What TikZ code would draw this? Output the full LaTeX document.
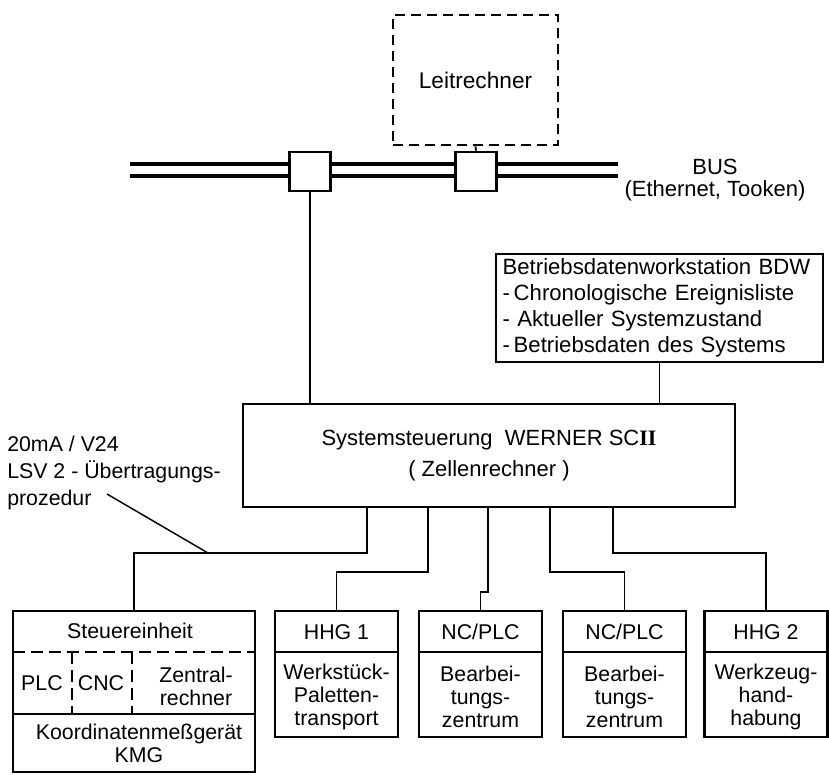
\documentclass[tikz,border=0pt]{standalone}
\usepackage{fontspec}
\setmainfont{Liberation Sans}
\newfontfamily\numeralfont{Liberation Serif}
\usepackage{tikz}

\begin{document}
\begin{tikzpicture}[x=0.75pt,y=0.75pt,yscale=-1,xscale=1,
	every node/.style={font=\fontsize{16}{20}\selectfont},
	unitbox/.style={draw,line width=2.1pt,inner sep=0pt},
	divline/.style={line width=2.1pt},
	inner dash/.style={line width=1.5pt,dash pattern=on 9pt off 4.5pt},
	link/.style={line width=1.4pt},
	buspair/.style={double,line width=2.4pt,double distance=6.6pt}]
	\useasboundingbox (0,0) rectangle (829,775);

	%Bus line
	\coordinate (busL) at (130,170);
	\coordinate (busR) at (618,170);
	\draw [buspair] (busL) -- (busR) ;
	%Shape: Square [bus coupler 1]
	\node [unitbox,fill=white,minimum width=30.75pt,minimum height=29.25pt] (sq1) at (310,171.5) {};
	%Shape: Square [bus coupler 2]
	\node [unitbox,fill=white,minimum width=30.75pt,minimum height=29.25pt] (sq2) at (476,171.5) {};
	% Text Node
	\node [align=center,font=\fontsize{16.5}{17}\selectfont] (buslbl) at (715,180) {BUS\\(Ethernet, Tooken)};

	%Shape: Rectangle [Leitrechner]
	\node [unitbox,dash pattern=on 7.5pt off 4.5pt,minimum width=123.75pt,minimum height=97.5pt,font=\fontsize{17}{20}\selectfont] (leit) at (475.5,80) {Leitrechner};
	\draw [link,dash pattern=on 6pt off 3pt] (leit.south) -- (sq2.north) ;

	%Shape: Rectangle [BDW]
	\node [unitbox,text width=235.25pt,inner xsep=5pt,align=left,minimum height=81pt,font=\fontsize{16.6}{19.5}\selectfont] (bdw) at (659.5,308) {Betriebsdatenworkstation~BDW\\-\,Chronologische Ereignisliste\\- Aktueller Systemzustand\\-\,Betriebsdaten des Systems};

	%Shape: Rectangle [Systemsteuerung]
	\node [unitbox,align=center,minimum width=369pt,minimum height=77.25pt,font=\fontsize{16.5}{23.25}\selectfont] (sys) at (489,455.5) {Systemsteuerung\ \ WERNER SC{\numeralfont\bfseries II}\\( Zellenrechner )};
	\draw [link] (sq1.south) -- (sq1.south |- sys.north) ;
	\draw [link] (bdw.south) -- (bdw.south |- sys.north) ;

	% Text Node
	\node [anchor=north west,align=left,inner sep=0pt,font=\fontsize{16}{20.25}\selectfont] (iface) at (7,436) {20mA / V24\\LSV 2 - Übertragungs-\\prozedur};

	%Shape: Rectangle [Steuereinheit / KMG]
	\node [unitbox,minimum width=181.5pt,minimum height=120.75pt] (steu) at (134,691.5) {};
	\draw [inner dash] (13,652) -- (255,652) ;
	\draw [inner dash] (72,652) -- (72,714) ;
	\draw [inner dash] (132,652) -- (132,714) ;
	\draw [divline] (13,714) -- (255,714) ;
	% Text Node
	\node (steuh) at (130,631) {Steuereinheit};
	\node (plc) at (42,683) {PLC};
	\node (cnc) at (101,683) {CNC};
	\node [align=center,font=\fontsize{16}{17.25}\selectfont] (zr) at (196,686) {Zentral-\\rechner};
	\node [align=center,font=\fontsize{16}{17.25}\selectfont] (kmg) at (139,743) {Koordinatenmeßgerät\\KMG};

	%Shape: Rectangle [HHG 1]
	\node [unitbox,minimum width=92.25pt,minimum height=94.5pt] (hhg1) at (336.5,674) {};
	\draw [divline] (275,652) -- (398,652) ;
	\node (hhg1h) at (336.5,632) {HHG 1};
	\node [align=center,font=\fontsize{16}{17.5}\selectfont] (hhg1b) at (336.5,697) {Werkstück-\\Paletten-\\transport};

	%Shape: Rectangle [NC/PLC 1]
	\node [unitbox,minimum width=92.25pt,minimum height=94.5pt] (nc1) at (480.5,674) {};
	\draw [divline] (419,652) -- (542,652) ;
	\node (nc1h) at (480.5,632) {NC/PLC};
	\node [align=center,font=\fontsize{16}{17.5}\selectfont] (nc1b) at (480.5,697) {Bearbei-\\tungs-\\zentrum};

	%Shape: Rectangle [NC/PLC 2]
	\node [unitbox,minimum width=92.25pt,minimum height=94.5pt] (nc2) at (624.5,674) {};
	\draw [divline] (563,652) -- (686,652) ;
	\node (nc2h) at (624.5,632) {NC/PLC};
	\node [align=center,font=\fontsize{16}{17.5}\selectfont] (nc2b) at (624.5,697) {Bearbei-\\tungs-\\zentrum};

	%Shape: Rectangle [HHG 2]
	\node [unitbox,minimum width=92.25pt,minimum height=94.5pt] (hhg2) at (766,674) {};
	\draw [divline] (704.5,652) -- (827.5,652) ;
	\node (hhg2h) at (766,632) {HHG 2};
	\node [align=center,font=\fontsize{16}{17.5}\selectfont] (hhg2b) at (766,697) {Werkzeug-\\hand-\\habung};

	%Connectors from the cell computer
	\coordinate (j1) at (367,553);
	\coordinate (j2) at (428,572);
	\coordinate (j3) at (488,592);
	\coordinate (j4) at (550,572);
	\coordinate (j5) at (613,553);
	\draw [link] (sys.south -| j1) -- (j1) -| (steu.north) ;
	\draw [link] (sys.south -| j2) -- (j2) -| (hhg1.north) ;
	\draw [link] (sys.south -| j3) -- (j3) -| (nc1.north) ;
	\draw [link] (sys.south -| j4) -- (j4) -| (nc2.north) ;
	\draw [link] (sys.south -| j5) -- (j5) -| (hhg2.north) ;

	%Straight Lines [label pointer]
	\coordinate (ifaceend) at (107,494);
	\coordinate (tap) at (208,553);
	\draw [line width=1.1pt] (ifaceend) -- (tap) ;
\end{tikzpicture}
\end{document}
